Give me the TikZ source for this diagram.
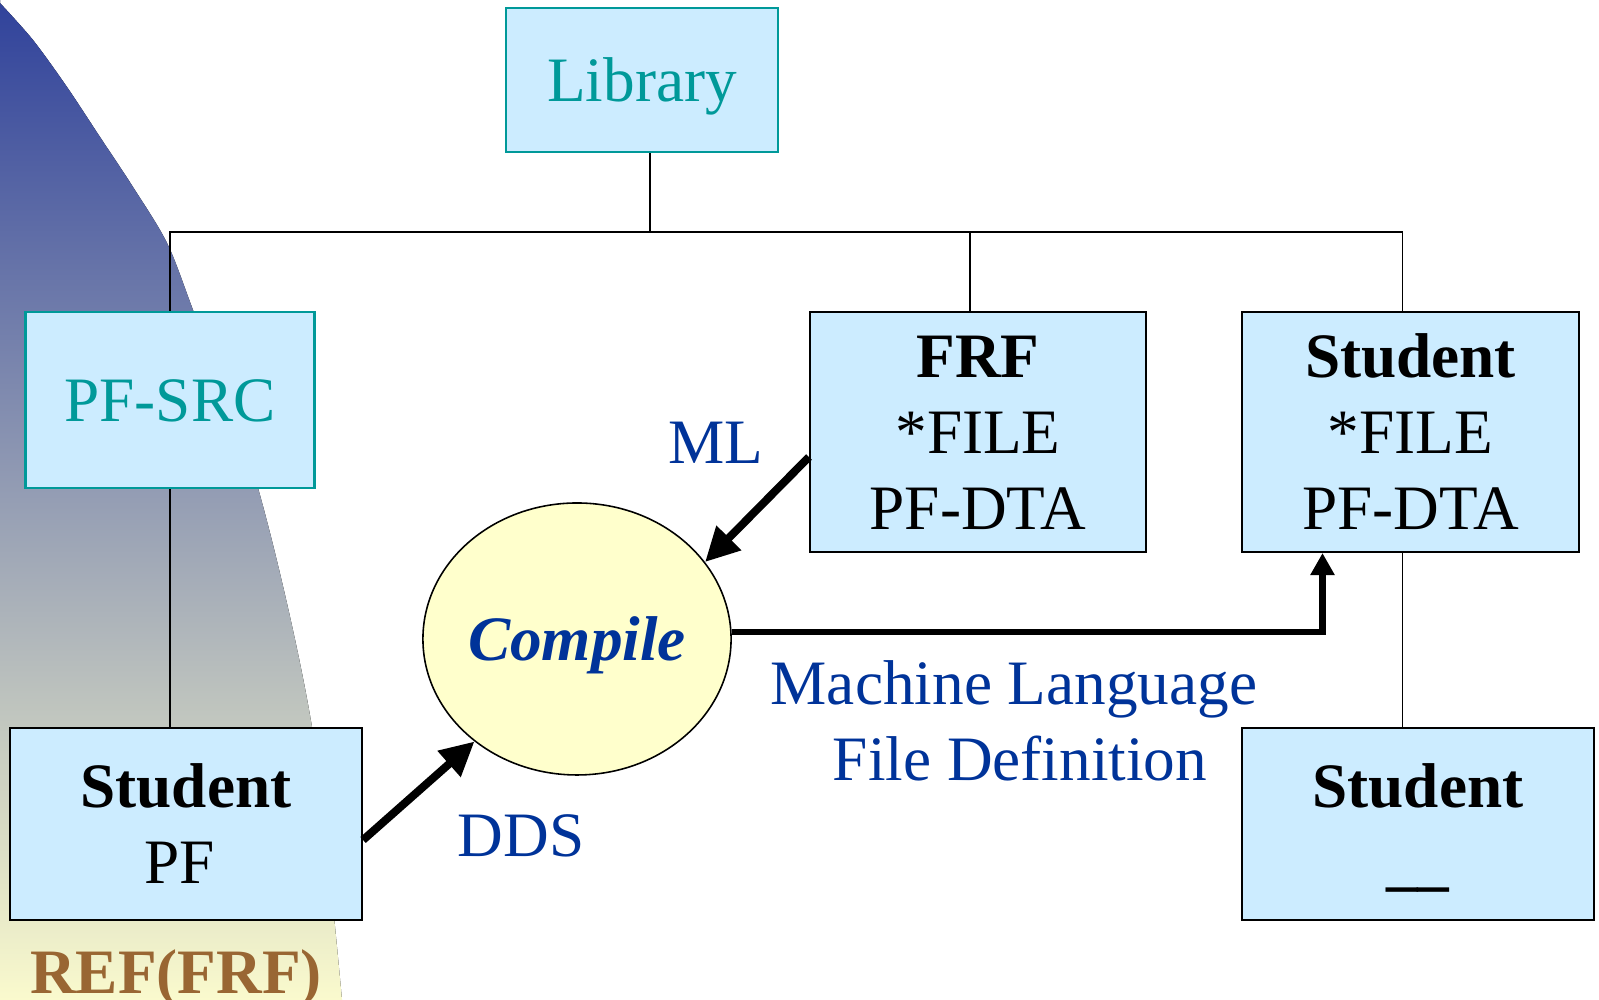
\documentclass[tikz,border=0pt]{standalone}
\usepackage{fontspec}
\setmainfont{Liberation Serif}
\usetikzlibrary{shapes.geometric,arrows.meta}

\definecolor{fileblue}{RGB}{204,236,255}
\definecolor{libteal}{RGB}{0,153,153}
\definecolor{inkblue}{RGB}{0,51,153}
\definecolor{compyellow}{RGB}{255,255,204}
\definecolor{refbrown}{RGB}{153,102,51}
\definecolor{bgtop}{RGB}{48,66,155}
\definecolor{bgmid}{RGB}{190,188,163}
\definecolor{bgbot}{RGB}{250,250,205}

% line box as a slide text box has it
\newcommand\pptstrut{\vrule height 0.891em depth 0.216em width 0pt}

\begin{document}
\begin{tikzpicture}[
  font=\fontsize{18pt}{21.6pt}\selectfont,
  filebox/.style={draw=black,line width=0.6pt,fill=fileblue,align=center,inner sep=0pt},
  srcbox/.style={filebox,draw=libteal,text=libteal},
  tag/.style={text=inkblue,align=center,inner sep=0pt},
  fat arrow/.style={line width=0.08cm,-{Triangle[length=0.34cm,width=0.33cm]}},
  thin arrow/.style={line width=0.065cm,-{Triangle[length=0.22cm,width=0.23cm]}},
  tree/.style={line width=0.5pt}
]
\useasboundingbox (0,0) rectangle (15.99,10);
% left backdrop
\fill[top color=bgtop,middle color=bgmid,bottom color=bgbot]
  (0,10) -- plot[smooth] coordinates {(0,9.97) (0.33,9.60) (0.67,9.13) (1.00,8.63) (1.33,8.13)
    (1.67,7.57) (1.93,6.90) (2.58,5.12) (3.12,2.73) (3.42,0)} -- (0,0) -- cycle;

% boxes
\node[srcbox,minimum width=2.72cm,minimum height=1.44cm] (lib) at (6.42,9.20) {\pptstrut Library};
\node[srcbox,minimum width=2.89cm,minimum height=1.76cm] (pfsrc) at (1.70,6.00) {\pptstrut PF-SRC};
\node[filebox,minimum width=3.36cm,minimum height=2.40cm] (frf) at (9.78,5.68) {\pptstrut\textbf{FRF}\\{*}FILE\\PF-DTA\pptstrut};
\node[filebox,minimum width=3.37cm,minimum height=2.40cm] (strt) at (14.105,5.68) {\pptstrut\textbf{Student}\\{*}FILE\\PF-DTA\pptstrut};
\node[filebox,minimum width=3.52cm,minimum height=1.92cm] (stpf) at (1.86,1.76) {\pptstrut\textbf{Student}\\PF\kern0.12cm\pptstrut};
\node[filebox,minimum width=3.52cm,minimum height=1.92cm] (stbr) at (14.18,1.76) {\pptstrut\textbf{Student}\\\textbf{\_\_}\pptstrut};
\node[ellipse,draw,line width=0.45pt,fill=compyellow,minimum width=3.04cm,minimum height=2.72cm,
  inner sep=0pt,text=inkblue,font=\fontsize{18pt}{21.6pt}\selectfont\bfseries\itshape] (cmp) at (5.77,3.61) {\pptstrut Compile};

% labels
\node[tag,anchor=base] (ml) at (7.16,5.36) {ML};
\node[tag,anchor=base] (dds) at (5.21,1.43) {DDS};
\node[tag] (mlfd) at (10.14,2.79) {Machine Language\\\kern0.12cm File Definition};
\node[text=refbrown,font=\fontsize{18pt}{21.6pt}\selectfont\bfseries,anchor=base,inner sep=0pt] (ref) at (1.76,0.06) {REF(FRF)};

% tree
\coordinate (bus) at (0,7.68);
\draw[tree] (pfsrc.north) -- (pfsrc.north |- bus) -- ([xshift=-0.08cm]strt.north |- bus) -- ([xshift=-0.08cm]strt.north);
\draw[tree] ([xshift=0.08cm]lib.south) -- ([xshift=0.08cm]lib.south |- bus);
\draw[tree] ([xshift=-0.08cm]frf.north) -- ([xshift=-0.08cm]frf.north |- bus);
\draw[tree] (pfsrc.south) -- (pfsrc.south |- stpf.north);
\draw[tree] ([xshift=-0.08cm]strt.south) -- ([xshift=-0.08cm]strt.south |- stbr.north);

% flows
\draw[fat arrow] ([yshift=-0.25cm]frf.west) -- (cmp.31);
\draw[fat arrow] ([yshift=-0.16cm]stpf.east) -- (cmp.225);
\draw[thin arrow] ([yshift=0.07cm]cmp.east) -| ([xshift=-0.88cm]strt.south);
\end{tikzpicture}
\end{document}
